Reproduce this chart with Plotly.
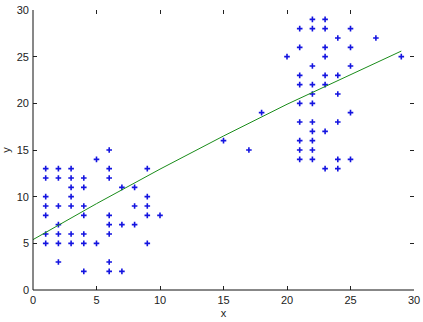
import plotly.graph_objects as go

# scatter data (x, y)
left_x = [6, 5, 1, 2, 3, 6, 9, 1, 2, 3, 4, 6, 3, 4, 7, 8, 1, 3, 9,
          1, 2, 3, 4, 8, 9, 1, 4, 6, 9, 10, 2, 6, 7, 8, 1, 2, 3, 4, 6,
          1, 2, 3, 4, 5, 9, 2, 6, 4, 6, 7]
left_y = [15, 14, 13, 13, 13, 13, 13, 12, 12, 12, 12, 12, 11, 11, 11, 11, 10, 10, 10,
          9, 9, 9, 9, 9, 9, 8, 8, 8, 8, 8, 7, 7, 7, 7, 6, 6, 6, 6, 6,
          5, 5, 5, 5, 5, 5, 3, 3, 2, 2, 2]
mid_x = [15, 17, 18]
mid_y = [16, 15, 19]
right_x = [22, 23, 21, 22, 23, 25, 24, 27, 21, 23, 25, 20, 23, 29, 22, 25,
           21, 23, 24, 21, 22, 23, 22, 24, 21, 22, 25, 21, 22, 24, 22, 23,
           21, 22, 21, 22, 21, 22, 24, 25, 23, 24]
right_y = [29, 29, 28, 28, 28, 28, 27, 27, 26, 26, 26, 25, 25, 25, 24, 24,
           23, 23, 23, 22, 22, 22, 21, 21, 20, 20, 19, 18, 18, 18, 17, 17,
           16, 16, 15, 15, 14, 14, 14, 14, 13, 13]

# fitted curve
fit_x = [0, 5, 10, 15, 20, 25, 29]
fit_y = [5.4, 9.25, 12.95, 16.5, 19.9, 23.1, 25.6]

x_ticks = [0, 5, 10, 15, 20, 25, 30]
y_ticks = [0, 5, 10, 15, 20, 25, 30]

xs = left_x + mid_x + right_x
ys = left_y + mid_y + right_y

fig = go.Figure()
fig.add_trace(go.Scatter(
    x=xs, y=ys, mode="markers",
    marker=dict(symbol="cross-thin", size=4, color="#1414e0",
                line=dict(color="#1414e0", width=1.6)),
    hoverinfo="skip"))
fig.add_trace(go.Scatter(
    x=fit_x, y=fit_y, mode="lines",
    line=dict(color="#1a8c1a", width=1),
    hoverinfo="skip"))

axis_font = dict(family="Liberation Sans, Arial", size=11, color="#222222")
fig.update_layout(
    width=423, height=322,
    margin=dict(l=33, r=9, t=10, b=32),
    paper_bgcolor="white", plot_bgcolor="white",
    showlegend=False,
    xaxis=dict(range=[0, 30], tickvals=x_ticks, ticks="inside", ticklen=4,
               tickcolor="#222222", showgrid=False, zeroline=False,
               showline=False, mirror="ticks", tickfont=axis_font,
               ticklabelstandoff=2, automargin=False,
               title=dict(text="x", font=axis_font, standoff=4)),
    yaxis=dict(range=[0, 30], tickvals=y_ticks, ticks="inside", ticklen=4,
               tickcolor="#222222", showgrid=False, zeroline=False,
               showline=False, mirror="ticks", tickfont=axis_font,
               ticklabelstandoff=3, automargin=False,
               title=dict(text="y", font=axis_font, standoff=8)),
    shapes=[
        dict(type="line", xref="paper", yref="paper", x0=0, x1=1, y0=0, y1=0,
             line=dict(color="#111111", width=1)),
        dict(type="line", xref="paper", yref="paper", x0=0, x1=0, y0=0, y1=1,
             line=dict(color="#111111", width=1)),
    ],
)
fig.write_html("out.html")
